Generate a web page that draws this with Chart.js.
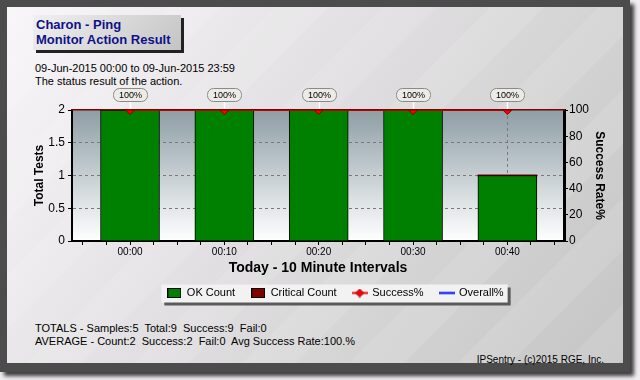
<!DOCTYPE html>
<html>
<head>
<meta charset="utf-8">
<script src="https://cdn.jsdelivr.net/npm/chart.js@4.4.1/dist/chart.umd.min.js"></script>
<style>
  body { margin: 0; width: 640px; height: 380px; overflow: hidden; background: #efedef; font-family: "Liberation Sans", Arial, sans-serif; }
  #frame { position: absolute; left: 0; top: 0; width: 630px; height: 372px; background: #4c4c4c; box-shadow: 4px 4px 4px rgba(0,0,0,0.75); }
  #panel { position: absolute; left: 7px; top: 7px; width: 616px; height: 356px;
    background: repeating-linear-gradient(135deg, rgba(255,255,255,0) 0 38px, rgba(255,255,255,0.10) 38px 76px),
                linear-gradient(125deg, #f8f6f8 0%, #e3e1e3 40%, #c5c5c5 100%); }
  #titlebox { position: absolute; left: 33px; top: 15px; width: 148px; height: 35px;
    background: linear-gradient(135deg, #f0f0f0, #c4c4c4); box-shadow: 3px 3px 0 #222; }
  #titletext { position: absolute; left: 36px; top: 17px; font-weight: bold; font-size: 13px; line-height: 15px; color: #10108a; white-space: nowrap; }
  .txt { position: absolute; left: 35px; font-size: 11px; line-height: 13px; color: #000; white-space: nowrap; }
  #footer { position: absolute; right: 36px; top: 354px; font-size: 10px; line-height: 12px; color: #000; white-space: nowrap; }
  #chart { position: absolute; left: 0; top: 0; }
</style>
</head>
<body>
<div id="frame"></div>
<div id="panel"></div>
<div id="titlebox"></div>
<div id="titletext">Charon - Ping<br>Monitor Action Result</div>
<div class="txt" style="top:62px">09-Jun-2015 00:00 to 09-Jun-2015 23:59<br>The status result of the action.</div>
<div class="txt" style="top:322px">TOTALS - Samples:5&nbsp; Total:9&nbsp; Success:9&nbsp; Fail:0</div>
<div class="txt" style="top:335px">AVERAGE - Count:2&nbsp; Success:2&nbsp; Fail:0&nbsp; Avg Success Rate:100.%</div>
<div id="footer">IPSentry - (c)2015 RGE, Inc.</div>
<canvas id="chart" width="640" height="380"></canvas>
<script>
const categories = ['00:00', '00:10', '00:20', '00:30', '00:40'];
const okCounts = [2, 2, 2, 2, 1];
const criticalCounts = [0, 0, 0, 0, 0];
const successRates = [100, 100, 100, 100, 100];
const overallRates = [100, 100, 100, 100, 100];

const colorVar = {
    green: '#008000',
    darkRed: '#800000',
    red: '#ff0000',
    blue: '#0000ff',
    grid: '#7a7a7a',
    clear: 'rgba(0,0,0,0)',
}

Chart.defaults.font.family = '"Liberation Sans", Arial, sans-serif';
Chart.defaults.color = '#000';

function toPoints(values) {
    return values.map((v, i) => ({ x: i, y: v }));
}

function makeIcon(w, h, draw) {
    const c = document.createElement('canvas');
    c.width = w;
    c.height = h;
    draw(c.getContext('2d'));
    return c;
}

const icons = [
    makeIcon(14, 10, g => {
        g.fillStyle = colorVar.green; g.fillRect(0, 0, 14, 10);
        g.strokeStyle = '#000'; g.strokeRect(0.5, 0.5, 13, 9);
    }),
    makeIcon(14, 10, g => {
        g.fillStyle = colorVar.darkRed; g.fillRect(0, 0, 14, 10);
        g.strokeStyle = '#000'; g.strokeRect(0.5, 0.5, 13, 9);
    }),
    makeIcon(16, 9, g => {
        g.strokeStyle = colorVar.red; g.lineWidth = 2;
        g.beginPath(); g.moveTo(0, 4.5); g.lineTo(16, 4.5); g.stroke();
        g.fillStyle = colorVar.red; g.strokeStyle = colorVar.darkRed; g.lineWidth = 1;
        g.beginPath(); g.moveTo(8, 0.5); g.lineTo(12, 4.5); g.lineTo(8, 8.5); g.lineTo(4, 4.5); g.closePath();
        g.fill(); g.stroke();
    }),
    makeIcon(16, 9, g => {
        g.strokeStyle = colorVar.blue; g.lineWidth = 2;
        g.beginPath(); g.moveTo(0, 4.5); g.lineTo(16, 4.5); g.stroke();
    }),
];
const legendNames = ['OK Count', 'Critical Count', 'Success%', 'Overall%'];

// quarter-interval tick marks, labelled at whole intervals only
const xTickValues = [];
for (let q = -2; q <= 18; q++) xTickValues.push(q / 4);

// plot gradient, legend frame, the "100%" callouts
const decorPlugin = {
    id: 'decor',
    afterLayout(chart) {
        const lg = chart.legend;
        lg.left += 16; lg.right += 16;
        lg.top -= 9.5; lg.bottom -= 9.5;
    },
    beforeDraw(chart) {
        const { ctx, chartArea: a } = chart;
        ctx.save();
        const grad = ctx.createLinearGradient(0, a.top, 0, a.bottom);
        grad.addColorStop(0, '#8e9ea5');
        grad.addColorStop(1, '#ffffff');
        ctx.fillStyle = grad;
        ctx.fillRect(a.left, a.top, a.right - a.left, a.bottom - a.top);

        const hb = chart.legend.legendHitBoxes;
        if (hb && hb.length) {
            const l = Math.min(...hb.map(b => b.left)) - 6;
            const r = Math.max(...hb.map(b => b.left + b.width)) + 4;
            const t = hb[0].top - 3;
            const b = hb[0].top + hb[0].height + 4;
            ctx.fillStyle = '#5a5a5a';
            ctx.fillRect(l + 3, t + 3, r - l, b - t);
            ctx.fillStyle = '#f2f2f2';
            ctx.fillRect(l, t, r - l, b - t);
        }
        ctx.restore();
    },
    afterDraw(chart) {
        const { ctx, chartArea: a } = chart;
        const meta = chart.getDatasetMeta(0);
        ctx.save();
        ctx.font = '9px "Liberation Sans", Arial, sans-serif';
        ctx.textAlign = 'center';
        ctx.textBaseline = 'middle';
        meta.data.forEach((pt, i) => {
            const x = Math.round(pt.x) + 0.5;
            ctx.strokeStyle = '#ffffff';
            ctx.lineWidth = 1.5;
            ctx.beginPath(); ctx.moveTo(x, a.top - 8); ctx.lineTo(x, a.top - 1); ctx.stroke();
            ctx.beginPath();
            ctx.roundRect(x - 17, a.top - 21.5, 34, 13, 6);
            ctx.fillStyle = '#ecebe6';
            ctx.fill();
            ctx.strokeStyle = '#8a8a8a';
            ctx.lineWidth = 1;
            ctx.stroke();
            ctx.fillStyle = '#000';
            ctx.fillText(successRates[i] + '%', x, a.top - 14.5);
        });
        ctx.restore();
    }
};

const ctx = document.getElementById('chart');

new Chart(ctx, {
    type: 'bar',
    data: {
        datasets: [{
            type: 'line',
            label: 'Success%',
            data: toPoints(successRates),
            yAxisID: 'y2',
            order: 0,
            borderColor: colorVar.red,
            borderWidth: 2,
            pointStyle: 'rectRot',
            pointRadius: 4.5,
            pointBackgroundColor: colorVar.red,
            pointBorderColor: colorVar.darkRed,
            pointBorderWidth: 1,
        }, {
            type: 'line',
            label: 'Overall%',
            data: toPoints(overallRates),
            yAxisID: 'y2',
            order: 1,
            borderColor: colorVar.blue,
            borderWidth: 2,
            pointRadius: 0,
        }, {
            label: 'OK Count',
            data: toPoints(okCounts),
            yAxisID: 'y',
            stack: 's',
            order: 2,
            backgroundColor: colorVar.green,
            borderColor: '#000',
            borderWidth: 1,
            barThickness: 59,
        }, {
            label: 'Critical Count',
            data: toPoints(criticalCounts),
            yAxisID: 'y',
            stack: 's',
            order: 3,
            backgroundColor: colorVar.darkRed,
            borderWidth: 0,
            barThickness: 59,
            minBarLength: 1.5,
        }]
    },
    options: {
        responsive: false,
        animation: false,
        devicePixelRatio: 1,
        layout: { padding: { left: 28, right: 29, top: 110, bottom: 62 } },
        plugins: {
            tooltip: { enabled: false },
            legend: {
                position: 'bottom',
                labels: {
                    usePointStyle: true,
                    pointStyleWidth: 14,
                    padding: 16,
                    color: '#000',
                    font: { size: 11 },
                    generateLabels: () => legendNames.map((name, i) => ({
                        text: name,
                        pointStyle: icons[i],
                        lineWidth: 0,
                        hidden: false,
                        datasetIndex: i,
                    })),
                },
            },
        },
        scales: {
            x: {
                type: 'linear',
                position: 'bottom',
                bounds: 'data',
                offset: false,
                min: -0.615,
                max: 4.6,
                afterBuildTicks: s => { s.ticks = xTickValues.map(v => ({ value: v })); },
                ticks: {
                    autoSkip: false,
                    maxRotation: 0,
                    padding: 1,
                    font: { size: 10 },
                    callback: v => Number.isInteger(v) && categories[v] ? categories[v] : '',
                },
                grid: {
                    offset: false,
                    color: c => c.tick && Number.isInteger(c.tick.value) ? colorVar.grid : colorVar.clear,
                    tickColor: '#000',
                    tickLength: 4,
                },
                border: { color: '#000', width: 2, dash: [3, 3] },
                title: { display: true, text: 'Today - 10 Minute Intervals', font: { size: 14, weight: 'bold' } },
                afterFit: s => { s.height = 40; },
            },
            xTop: {
                type: 'linear',
                position: 'top',
                offset: false,
                ticks: { display: false },
                grid: { display: false, drawTicks: false, offset: false },
                border: { color: colorVar.darkRed, width: 1.5, z: 1 },
                afterFit: s => { s.height = 0; },
            },
            y: {
                min: 0,
                max: 2,
                stacked: true,
                ticks: { stepSize: 0.5, padding: 3, font: { size: 12 }, callback: v => String(v) },
                grid: {
                    color: c => c.tick && c.tick.value > 0 && c.tick.value < 2 ? colorVar.grid : colorVar.clear,
                    tickColor: '#000',
                    tickLength: 4,
                },
                border: { color: '#000', width: 2, dash: [3, 3] },
                title: { display: true, text: 'Total Tests', font: { size: 12, weight: 'bold' } },
                afterFit: s => { s.width = 44; },
            },
            y2: {
                position: 'right',
                min: 0,
                max: 100,
                ticks: { stepSize: 20, padding: 1, font: { size: 12 } },
                grid: { drawOnChartArea: false, tickColor: '#000', tickLength: 4 },
                border: { color: '#000', width: 3 },
                title: { display: true, text: 'Success Rate%', font: { size: 12, weight: 'bold' } },
                afterFit: s => { s.width = 47; },
            },
        },
    },
    plugins: [decorPlugin],
});
</script>
</body>
</html>
